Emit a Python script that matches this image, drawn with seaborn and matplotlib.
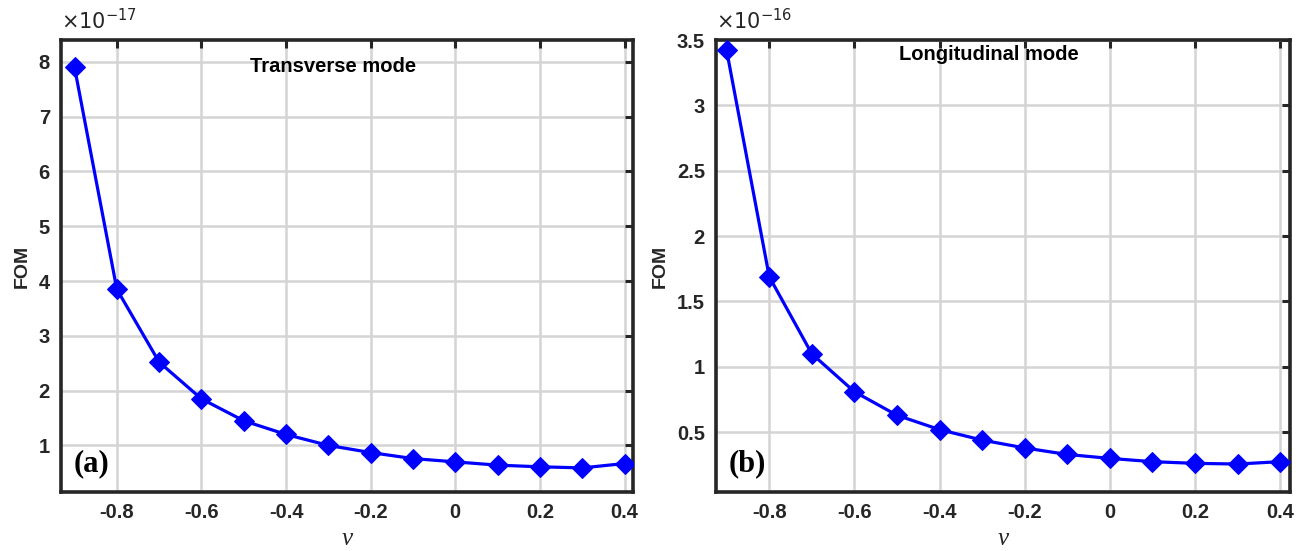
import numpy as np
import pandas as pd
import matplotlib
matplotlib.use("Agg")
import matplotlib.pyplot as plt
import seaborn as sns

# ---- data ----
nu = [-0.9, -0.8, -0.7, -0.6, -0.5, -0.4, -0.3, -0.2, -0.1, 0.0, 0.1, 0.2, 0.3, 0.4]
fom_transverse = [7.90, 3.85, 2.52, 1.85, 1.45, 1.20, 1.00, 0.87, 0.76, 0.70, 0.64, 0.61, 0.59, 0.67]   # x 1e-17
fom_longitudinal = [3.42, 1.69, 1.10, 0.81, 0.63, 0.52, 0.44, 0.38, 0.33, 0.30, 0.275, 0.262, 0.257, 0.275]  # x 1e-16
scale_a = "-17"
scale_b = "-16"
xticks = [-0.8, -0.6, -0.4, -0.2, 0, 0.2, 0.4]
xticklabels = ["-0.8", "-0.6", "-0.4", "-0.2", "0", "0.2", "0.4"]
yticks_a = [1, 2, 3, 4, 5, 6, 7, 8]
yticks_b = [0.5, 1, 1.5, 2, 2.5, 3, 3.5]
ytl_b = ["0.5", "1", "1.5", "2", "2.5", "3", "3.5"]
titles = ["Transverse mode", "Longitudinal mode"]
panel_labels = ["(a)", "(b)"]

sns.set_theme(style="white")
plt.rcParams['font.family'] = ['Liberation Sans', 'DejaVu Sans']

fig = plt.figure(figsize=(13.07, 5.51), dpi=100)
ax1 = fig.add_axes([61/1307, 1-492/551, (633-61)/1307, (492-40)/551])
ax2 = fig.add_axes([716/1307, 1-492/551, (1290-716)/1307, (492-40)/551])

df_a = pd.DataFrame({"nu": nu, "FOM": fom_transverse})
df_b = pd.DataFrame({"nu": nu, "FOM": fom_longitudinal})

for ax, df, yt, ytl, ylim, xlim, sc, title, tpos, pl in [
    (ax1, df_a, yticks_a, [str(v) for v in yticks_a], (0.15, 8.4), (-0.932, 0.42), scale_a,
     titles[0], (0.33, 0.962), panel_labels[0]),
    (ax2, df_b, yticks_b, ytl_b, (0.043, 3.5), (-0.925, 0.423), scale_b,
     titles[1], (0.318, 0.99), panel_labels[1]),
]:
    sns.lineplot(data=df, x="nu", y="FOM", ax=ax, color="#0000FF", linewidth=2.3,
                 marker="D", markersize=10, markeredgecolor="#0000FF", zorder=3)
    ax.set_xlim(*xlim)
    ax.set_ylim(*ylim)
    ax.set_xticks(xticks)
    ax.set_xticklabels(xticklabels)
    ax.set_yticks(yt)
    ax.set_yticklabels(ytl)
    ax.grid(True, color="#d4d4d4", linewidth=1.8, zorder=0)
    ax.set_axisbelow(True)
    for s in ax.spines.values():
        s.set_visible(True)
        s.set_color("#262626")
        s.set_linewidth(2.6)
    ax.tick_params(axis="both", direction="in", length=6, width=2.2, color="#262626",
                   top=True, right=True, labelsize=14.5, labelcolor="#262626", pad=8)
    for lab in ax.get_xticklabels() + ax.get_yticklabels():
        lab.set_fontweight("bold")
    ax.set_xlabel("ν", fontsize=18, family="Liberation Serif", style="italic", labelpad=4)
    ax.set_ylabel("FOM", fontsize=14, fontweight="bold", color="#262626", labelpad=6)
    ax.text(tpos[0], tpos[1], title, transform=ax.transAxes, fontsize=14.5,
            fontweight="bold", color="black", ha="left", va="top")
    ax.text(0.022, 0.03, pl, transform=ax.transAxes, fontsize=22,
            fontweight="bold", family="Liberation Serif", color="black", ha="left", va="bottom")
    ax.text(0.0, 1.015, r"$\times10^{" + sc + "}$", transform=ax.transAxes, fontsize=15,
            color="#262626", ha="left", va="bottom")

fig.savefig("out.png", dpi=100)
